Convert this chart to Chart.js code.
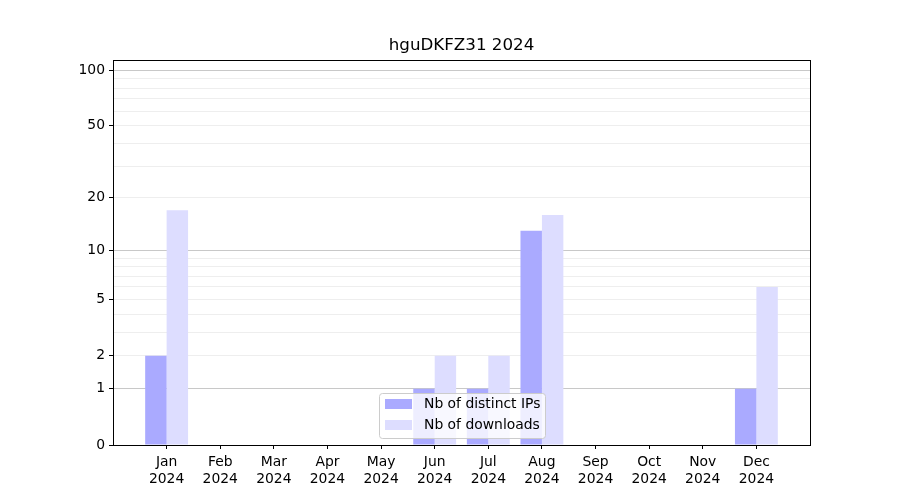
<!DOCTYPE html>
<html>
<head>
<meta charset="utf-8">
<script src="https://cdn.jsdelivr.net/npm/chart.js@4"></script>
<style>
    html, body { margin: 0; padding: 0; background: #fff; }
</style>
</head>
<body>
<canvas id="myChart" width="900" height="500"></canvas>
<script>
const months = ['Jan', 'Feb', 'Mar', 'Apr', 'May', 'Jun', 'Jul', 'Aug', 'Sep', 'Oct', 'Nov', 'Dec'];
const year = '2024';
const distinctIPs = [2, 0, 0, 0, 0, 1, 1, 13, 0, 0, 0, 1];
const downloads = [17, 0, 0, 0, 0, 2, 2, 16, 0, 0, 0, 6];
const yTickValues = [0, 1, 2, 3, 4, 5, 6, 7, 8, 9, 10, 20, 30, 40, 50, 60, 70, 80, 90, 100];
const yLabelled = [0, 1, 2, 5, 10, 20, 50, 100];
const yMajor = [1, 10, 100];
const yMax = 113.5;

// the y axis is log10(1 + v)
const sym = v => Math.log10(1 + v);

const seriesNames = ['Nb of distinct IPs', 'Nb of downloads'];
const seriesColors = ['#aaaaff', '#ddddff'];

Chart.defaults.font.family = 'DejaVu Sans';
Chart.defaults.color = '#000';

const frame = {
    id: 'frame',
    afterDatasetsDraw(chart) {
        const { ctx, chartArea: a } = chart;
        ctx.save();
        ctx.strokeStyle = '#000';
        ctx.lineWidth = 1;
        ctx.strokeRect(Math.round(a.left) + 0.5, Math.round(a.top) + 0.5,
            Math.round(a.right - a.left), Math.round(a.bottom - a.top));
        ctx.restore();
    }
};

const boxLegend = {
    id: 'boxLegend',
    afterDraw(chart) {
        const { ctx, chartArea: a } = chart;
        const w = 166, h = 45;
        const x = Math.round((a.left + a.right) / 2 - w / 2);
        const y = Math.round(a.bottom - 7 - h);
        ctx.save();
        ctx.beginPath();
        ctx.roundRect(x + 0.5, y + 0.5, w, h, 3);
        ctx.fillStyle = 'rgba(255,255,255,0.8)';
        ctx.fill();
        ctx.strokeStyle = '#cccccc';
        ctx.lineWidth = 1;
        ctx.stroke();
        ctx.font = '13.9px "DejaVu Sans"';
        ctx.textBaseline = 'middle';
        seriesNames.forEach((name, i) => {
            ctx.fillStyle = seriesColors[i];
            ctx.fillRect(x + 6, y + 6 + i * 21, 27, 10);
            ctx.fillStyle = '#000';
            ctx.fillText(name, x + 45, y + 11.5 + i * 21);
        });
        ctx.restore();
    }
};

const ctx = document.getElementById('myChart').getContext('2d');

const myChart = new Chart(ctx, { //eslint-disable-line
    type: 'bar',
    data: {
        datasets: [
            {
                label: seriesNames[0],
                data: distinctIPs.map((v, i) => ({ x: i, y: sym(v) })),
                backgroundColor: seriesColors[0],
                borderWidth: 0
            },
            {
                label: seriesNames[1],
                data: downloads.map((v, i) => ({ x: i, y: sym(v) })),
                backgroundColor: seriesColors[1],
                borderWidth: 0
            }
        ]
    },
    plugins: [frame, boxLegend],
    options: {
        responsive: false,
        animation: false,
        categoryPercentage: 0.8,
        barPercentage: 1.0,
        layout: { padding: { left: 0, right: 90, top: 0, bottom: 0 } },
        plugins: {
            legend: { display: false },
            tooltip: { enabled: false },
            title: {
                display: true,
                fullSize: false,
                text: 'hguDKFZ31 2024',
                color: '#000',
                font: { size: 16.7, weight: 'normal' },
                padding: { top: 36, bottom: 4 }
            }
        },
        scales: {
            x: {
                type: 'linear',
                min: -1,
                max: 12,
                offset: false,
                afterBuildTicks: s => { s.ticks = months.map((m, i) => ({ value: i })); },
                afterFit: s => { s.height = 55; },
                ticks: {
                    callback: (v, i) => [months[i], year],
                    autoSkip: false,
                    maxRotation: 0,
                    font: { size: 13.9 },
                    color: '#000',
                    padding: 5
                },
                grid: { offset: false, drawOnChartArea: false, tickLength: 4, tickColor: '#000' },
                border: { color: '#000' }
            },
            y: {
                type: 'linear',
                min: 0,
                max: sym(yMax),
                z: 1,
                afterBuildTicks: s => { s.ticks = yTickValues.map(v => ({ value: sym(v) })); },
                afterFit: s => { s.width = 113; },
                ticks: {
                    callback: (v, i) => yLabelled.includes(yTickValues[i]) ? String(yTickValues[i]) : '',
                    autoSkip: false,
                    font: { size: 13.9 },
                    color: '#000',
                    padding: 4
                },
                grid: {
                    color: c => {
                        const v = yTickValues[c.index];
                        if (v === 0) return 'rgba(0,0,0,0)';
                        return yMajor.includes(v) ? '#c8c8c8' : '#eeeeee';
                    },
                    tickColor: c => yLabelled.includes(yTickValues[c.index]) ? '#000' : 'rgba(0,0,0,0)',
                    tickLength: 4
                },
                border: { color: '#000' }
            }
        }
    }
});
</script>
</body>
</html>
